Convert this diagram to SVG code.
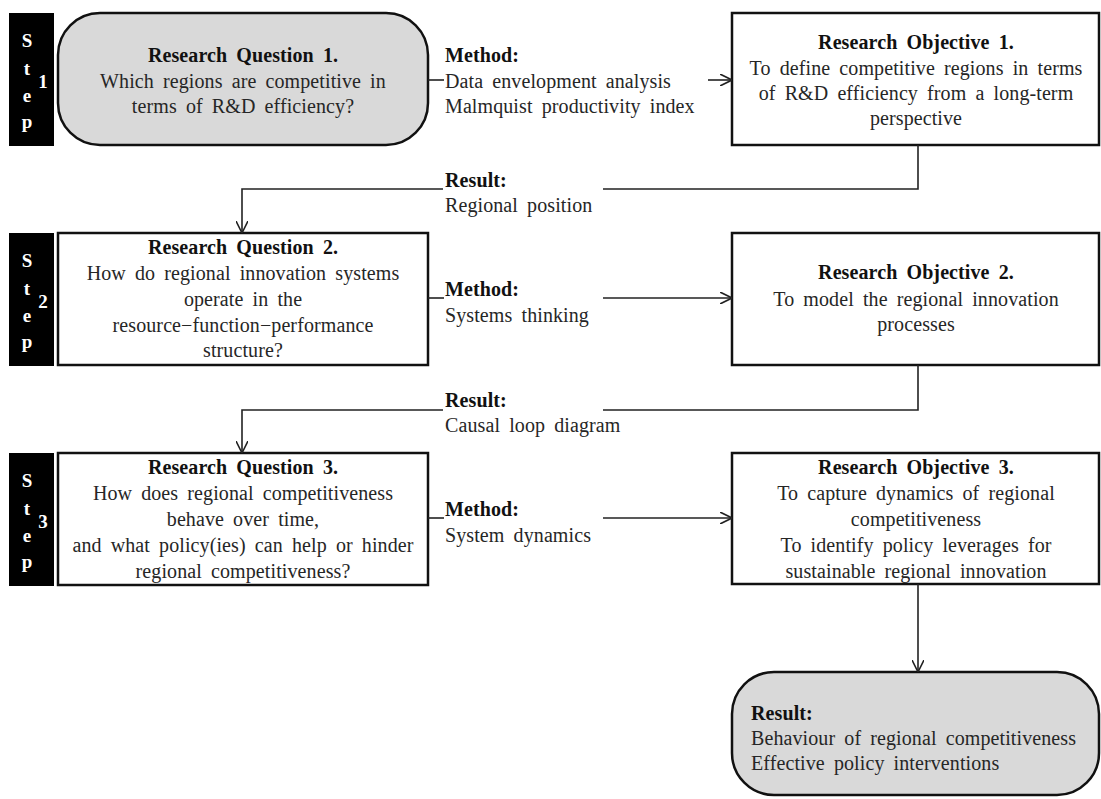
<svg xmlns="http://www.w3.org/2000/svg" width="1101" height="799" viewBox="0 0 1101 799">
  <style>
    text { font-family: "Liberation Serif", "Times New Roman", serif; font-size: 20px; word-spacing: 4px; letter-spacing: 0.1px; fill: #262626; }
    .b { font-weight: bold; fill: #111; }
    .c { text-anchor: middle; }
    .step rect { fill: #000; }
    .step text { fill: #fff; font-weight: bold; font-size: 19px; text-anchor: middle; }
    .box { fill: #fff; stroke: #111; stroke-width: 2.5; }
    .grey { fill: #d9d9d9; stroke: #111; stroke-width: 2.5; }
    .wire { fill: none; stroke: #222; stroke-width: 1.6; }
  </style>
  <defs>
    <marker id="arr" viewBox="0 0 12 12" refX="12" refY="6" markerWidth="12" markerHeight="12" markerUnits="userSpaceOnUse" orient="auto">
      <path d="M0,0 L12,6 L0,12" fill="none" stroke="#222" stroke-width="1.6"/>
    </marker>
  </defs>

  <rect width="1101" height="799" fill="#fff"/>

  <!-- step tabs -->
  <g id="step1" class="step">
    <rect x="9" y="13" width="45" height="133"/>
    <text x="27" y="47">S</text><text x="27" y="75">t</text><text x="27" y="102">e</text><text x="27" y="128">p</text>
    <text x="43" y="88">1</text>
  </g>
  <g id="step2" class="step">
    <rect x="9" y="233" width="45" height="133"/>
    <text x="27" y="267">S</text><text x="27" y="295">t</text><text x="27" y="322">e</text><text x="27" y="348">p</text>
    <text x="43" y="308">2</text>
  </g>
  <g id="step3" class="step">
    <rect x="9" y="453" width="45" height="133"/>
    <text x="27" y="487">S</text><text x="27" y="515">t</text><text x="27" y="542">e</text><text x="27" y="568">p</text>
    <text x="43" y="528">3</text>
  </g>

  <!-- research questions -->
  <g id="rq1">
    <rect class="grey" x="58" y="13" width="370" height="132" rx="42" ry="42"/>
    <text class="c b" x="243" y="62">Research Question 1.</text>
    <text class="c" x="243" y="88">Which regions are competitive in</text>
    <text class="c" x="243" y="113">terms of R&amp;D efficiency?</text>
  </g>
  <g id="rq2">
    <rect class="box" x="58" y="233" width="370" height="132"/>
    <text class="c b" x="243" y="254">Research Question 2.</text>
    <text class="c" x="243" y="280">How do regional innovation systems</text>
    <text class="c" x="243" y="306">operate in the</text>
    <text class="c" x="243" y="332">resource−function−performance</text>
    <text class="c" x="243" y="357">structure?</text>
  </g>
  <g id="rq3">
    <rect class="box" x="58" y="453" width="370" height="132"/>
    <text class="c b" x="243" y="474">Research Question 3.</text>
    <text class="c" x="243" y="500">How does regional competitiveness</text>
    <text class="c" x="243" y="526">behave over time,</text>
    <text class="c" x="243" y="552">and what policy(ies) can help or hinder</text>
    <text class="c" x="243" y="578">regional competitiveness?</text>
  </g>

  <!-- research objectives -->
  <g id="ro1">
    <rect class="box" x="732" y="13" width="367" height="132"/>
    <text class="c b" x="916" y="49">Research Objective 1.</text>
    <text class="c" x="916" y="75">To define competitive regions in terms</text>
    <text class="c" x="916" y="100">of R&amp;D efficiency  from a long-term</text>
    <text class="c" x="916" y="125">perspective</text>
  </g>
  <g id="ro2">
    <rect class="box" x="732" y="233" width="367" height="132"/>
    <text class="c b" x="916" y="279">Research Objective 2.</text>
    <text class="c" x="916" y="306">To model the regional innovation</text>
    <text class="c" x="916" y="331">processes</text>
  </g>
  <g id="ro3">
    <rect class="box" x="732" y="453" width="367" height="131"/>
    <text class="c b" x="916" y="474">Research Objective 3.</text>
    <text class="c" x="916" y="500">To capture dynamics of regional</text>
    <text class="c" x="916" y="526">competitiveness</text>
    <text class="c" x="916" y="552">To identify policy leverages for</text>
    <text class="c" x="916" y="578">sustainable regional innovation</text>
  </g>

  <!-- final outcome -->
  <g id="result">
    <rect class="grey" x="732" y="672" width="367" height="123" rx="42" ry="42"/>
    <text class="b" x="751" y="720">Result:</text>
    <text x="751" y="745">Behaviour of regional competitiveness</text>
    <text x="751" y="770">Effective policy interventions</text>
  </g>

  <!-- connectors -->
  <g id="connectors">
    <path class="wire" d="M428,80 H444"/>
    <path class="wire" d="M708,80 H732" marker-end="url(#arr)"/>
    <path class="wire" d="M918,145 V189 H603"/>
    <path class="wire" d="M443,189 H242 V233" marker-end="url(#arr)"/>
    <path class="wire" d="M428,298 H444"/>
    <path class="wire" d="M603,298 H732" marker-end="url(#arr)"/>
    <path class="wire" d="M918,365 V410 H603"/>
    <path class="wire" d="M443,410 H242 V453" marker-end="url(#arr)"/>
    <path class="wire" d="M428,518 H444"/>
    <path class="wire" d="M603,518 H732" marker-end="url(#arr)"/>
    <path class="wire" d="M918,584 V672" marker-end="url(#arr)"/>
  </g>

  <!-- flow labels -->
  <g id="labels">
    <text class="b" x="445" y="62">Method:</text>
    <text x="445" y="88">Data envelopment analysis</text>
    <text x="445" y="113">Malmquist productivity index</text>
    <text class="b" x="445" y="187">Result:</text>
    <text x="445" y="212">Regional position</text>
    <text class="b" x="445" y="296">Method:</text>
    <text x="445" y="322">Systems thinking</text>
    <text class="b" x="445" y="407">Result:</text>
    <text x="445" y="432">Causal loop diagram</text>
    <text class="b" x="445" y="516">Method:</text>
    <text x="445" y="542">System dynamics</text>
  </g>
</svg>
